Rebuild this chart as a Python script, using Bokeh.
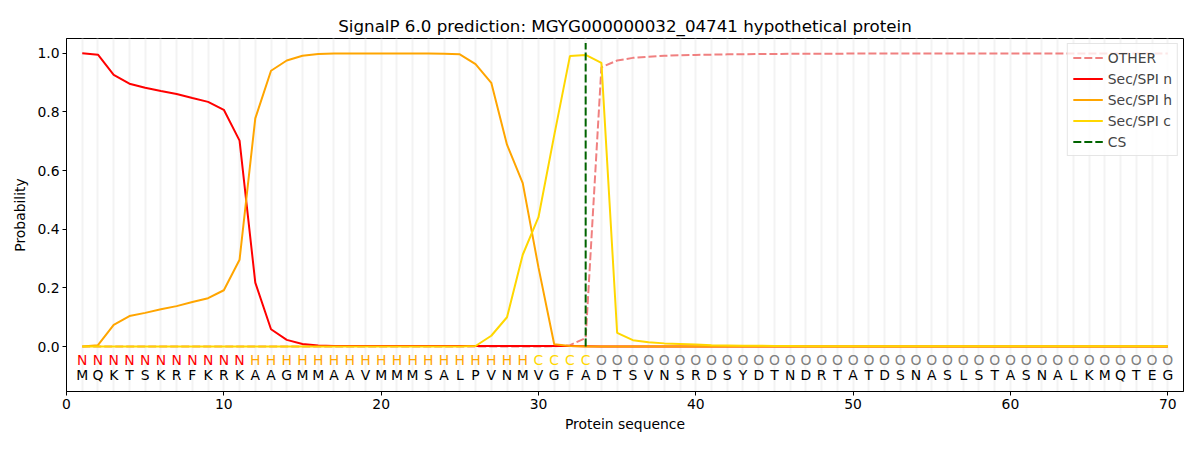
from bokeh.plotting import figure
from bokeh.models import Range1d, FixedTicker, ColumnDataSource, Legend, LegendItem, PrintfTickFormatter
from bokeh.core.properties import value
from bokeh.embed import file_html
from bokeh.resources import INLINE

sequence = list("MQKTSKRFKRKAAGMMAAVMMMSALPVNMVGFADTSVNSRDSYDTNDRTATDSNASLSTASNALKMQTEG")
regions = list("NNNNNNNNNNN" + "H" * 18 + "CCCC" + "O" * 37)
positions = list(range(1, 71))
cs_position = 33

other = [0.0] * 30 + [0.001, 0.005, 0.029, 0.952, 0.975, 0.984, 0.988, 0.991, 0.993, 0.994,
                      0.995, 0.996, 0.996, 0.997, 0.997, 0.998, 0.998, 0.998, 0.998, 0.999] + [0.999] * 20
sec_n = [1.0, 0.995, 0.926, 0.896, 0.882, 0.871, 0.861, 0.847, 0.834, 0.807,
         0.702, 0.218, 0.059, 0.023, 0.009, 0.004, 0.002, 0.002, 0.002, 0.002,
         0.002, 0.002, 0.002, 0.002, 0.002, 0.002, 0.002, 0.002, 0.002, 0.002,
         0.002, 0.002, 0.001] + [0.0] * 37
sec_h = [0.0, 0.005, 0.074, 0.104, 0.115, 0.127, 0.138, 0.152, 0.165, 0.192,
         0.296, 0.778, 0.940, 0.975, 0.991, 0.997, 0.999, 0.999, 0.999, 0.999,
         0.999, 0.999, 0.999, 0.998, 0.996, 0.963, 0.899, 0.688, 0.557, 0.270,
         0.008, 0.002, 0.0] + [0.0] * 37
sec_c = [0.0] * 25 + [0.002, 0.037, 0.100, 0.313, 0.441, 0.720, 0.990, 0.994, 0.967,
                      0.047, 0.022, 0.015, 0.011, 0.009, 0.007, 0.005, 0.004, 0.003, 0.003,
                      0.002, 0.002] + [0.001] * 25

region_colors = {"N": "red", "H": "orange", "C": "gold", "O": "gray"}

W, H = 1184, 434
p = figure(width=W, height=H, output_backend="svg", toolbar_location=None,
           x_range=Range1d(0, 71), y_range=Range1d(-0.153, 1.05),
           title="SignalP 6.0 prediction: MGYG000000032_04741 hypothetical protein",
           min_border_left=66, min_border_right=1, min_border_top=38, min_border_bottom=42)

p.title.align = "center"
p.title.text_font = "DejaVu Sans"
p.title.text_font_size = "16.7px"
p.title.text_font_style = "normal"
p.title.text_color = "black"
p.title.standoff = 6

p.outline_line_color = "black"
p.outline_line_width = 1
p.outline_line_alpha = 1

p.ygrid.visible = False
p.xgrid.ticker = FixedTicker(ticks=positions)
p.xgrid.grid_line_color = "#f3f3f3"
p.xgrid.grid_line_alpha = 1
p.xgrid.grid_line_width = 2

p.xaxis.ticker = FixedTicker(ticks=[0, 10, 20, 30, 40, 50, 60, 70])
p.yaxis.ticker = FixedTicker(ticks=[0.0, 0.2, 0.4, 0.6, 0.8, 1.0])
p.yaxis.formatter = PrintfTickFormatter(format="%.1f")
for ax in (p.xaxis, p.yaxis):
    ax.major_label_text_font = "DejaVu Sans"
    ax.major_label_text_font_size = "13.9px"
    ax.major_label_text_color = "black"
    ax.axis_label_text_font = "DejaVu Sans"
    ax.axis_label_text_font_size = "13.9px"
    ax.axis_label_text_font_style = "normal"
    ax.axis_label_text_color = "black"
    ax.minor_tick_line_color = None
    ax.major_tick_in = 0
    ax.major_tick_out = 4
    ax.axis_line_color = "black"
    ax.major_tick_line_color = "black"
    ax.major_label_standoff = 3
p.xaxis.axis_label = "Protein sequence"
p.yaxis.axis_label = "Probability"
p.xaxis.axis_label_standoff = 4
p.yaxis.axis_label_standoff = 6

src = ColumnDataSource(dict(x=positions, other=other, n=sec_n, h=sec_h, c=sec_c))
r_other = p.line("x", "other", source=src, line_color="lightcoral", line_width=2, line_dash="8 3")
r_n = p.line("x", "n", source=src, line_color="red", line_width=2)
r_h = p.line("x", "h", source=src, line_color="orange", line_width=2)
r_c = p.line("x", "c", source=src, line_color="gold", line_width=2)
cs_src = ColumnDataSource(dict(x=[cs_position, cs_position], y=[0.0, 1.035]))
r_cs = p.line("x", "y", source=cs_src, line_color="darkgreen", line_width=2, line_dash="8 3")

lab_src = ColumnDataSource(dict(x=positions, seq=sequence, reg=regions,
                                col=[region_colors[r] for r in regions],
                                y1=[-0.047] * len(positions), y2=[-0.098] * len(positions)))
p.text("x", "y1", text="reg", source=lab_src, text_color="col", text_align="center",
       text_baseline="middle", text_font=value("DejaVu Sans"), text_font_size="13.9px")
p.text("x", "y2", text="seq", source=lab_src, text_color="black", text_align="center",
       text_baseline="middle", text_font=value("DejaVu Sans"), text_font_size="13.9px")

legend = Legend(items=[
    LegendItem(label="OTHER", renderers=[r_other]),
    LegendItem(label="Sec/SPI n", renderers=[r_n]),
    LegendItem(label="Sec/SPI h", renderers=[r_h]),
    LegendItem(label="Sec/SPI c", renderers=[r_c]),
    LegendItem(label="CS", renderers=[r_cs]),
], location="top_right")
legend.margin = 5
legend.padding = 5
legend.spacing = 4
legend.glyph_height = 17
legend.label_height = 17
legend.glyph_width = 30
legend.label_text_font = "DejaVu Sans"
legend.label_text_font_size = "13.9px"
legend.border_line_color = "#cccccc"
legend.border_line_width = 1
legend.background_fill_alpha = 0.8
p.add_layout(legend, "center")

open("out.html", "w").write(file_html(p, INLINE))
